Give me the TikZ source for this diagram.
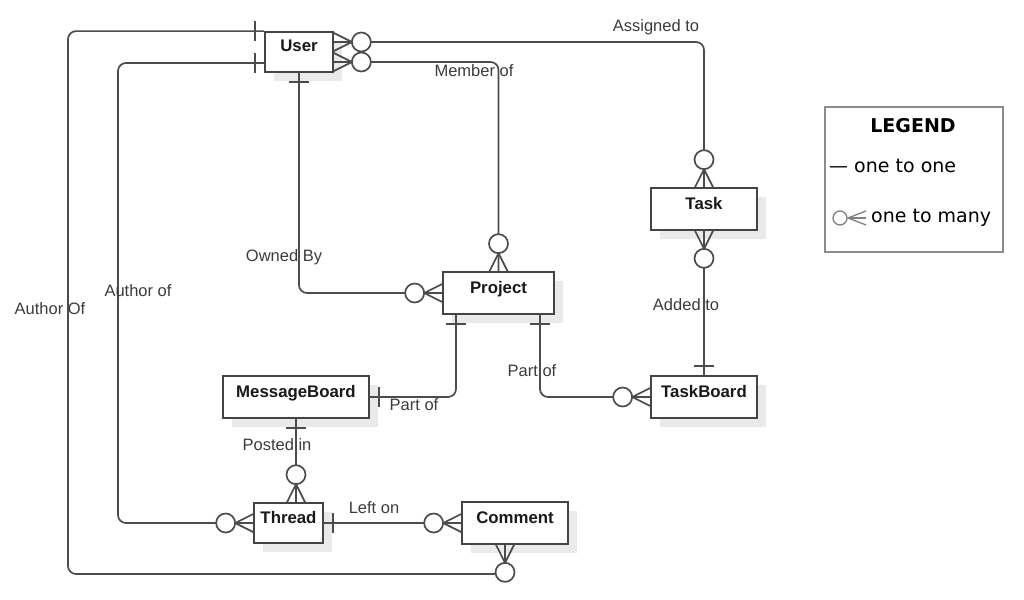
\documentclass[tikz,border=0pt]{standalone}
\usepackage{fontspec}
\setmainfont{Liberation Sans}
\newfontfamily\legfont{DejaVu Sans}
\usetikzlibrary{shadows}
\definecolor{lnc}{HTML}{4C4C4C}
\definecolor{boxc}{HTML}{444444}
\definecolor{lblc}{HTML}{3C3C3C}
\definecolor{shc}{HTML}{EAEAEA}
\tikzset{
  conn/.style={draw=lnc, line width=1.7pt, rounded corners=8pt},
  part/.style={draw=lnc, line width=1.7pt},
  ent/.style={draw=boxc, line width=1.7pt, fill=white, inner sep=0pt,
    font=\bfseries\fontsize{16.8}{16.8}\selectfont, text=black!90,
    text height=12pt, text depth=12pt,
    drop shadow={shadow xshift=9pt, shadow yshift=-9pt, fill=shc, opacity=1}},
  lbl/.style={font=\fontsize{16.5}{16.5}\selectfont, text=lblc, inner sep=0pt},
  many/.pic={
    \draw[part] (0pt,-9pt) -- (18pt,0pt) -- (0pt,9pt);
    \draw[part] (0pt,0pt) -- (18pt,0pt);
    \draw[part, fill=white] (27.5pt,0pt) circle[radius=9.5pt];
  },
  one/.pic={
    \draw[part] (9pt,-10pt) -- (9pt,10pt);
  }
}
\begin{document}
\begin{tikzpicture}[x=1pt, y=-1pt]
\useasboundingbox (0,0) rectangle (1024,599);
\fill[white] (0,0) rectangle (1024,599);

% entities
\node[ent, minimum width=68pt, minimum height=40pt] (user) at (299,52) {User};
\node[ent, minimum width=106pt, minimum height=42pt] (task) at (704,209) {Task};
\node[ent, minimum width=111pt, minimum height=42pt] (project) at (498.5,293) {Project};
\node[ent, minimum width=146pt, minimum height=42pt] (mboard) at (296,397) {MessageBoard};
\node[ent, minimum width=106pt, minimum height=42pt] (tboard) at (704,397) {TaskBoard};
\node[ent, minimum width=69pt, minimum height=40pt] (thread) at (288.5,523) {Thread};
\node[ent, minimum width=106pt, minimum height=42pt] (comment) at (515,523) {Comment};

% free corner points
\coordinate (aoc) at (68,574);
\coordinate (aic) at (118,523);
\coordinate (cbot) at ([xshift=-10pt]comment.south);

% connectors
\draw[conn] (user.north west) -| (aoc) -| (cbot);
\draw[conn] ([yshift=-11pt]user.west) -| (aic) -- (thread.west);
\draw[conn] (user.south) |- (project.west);
\draw[conn] ([yshift=-10pt]user.east) -| (project.north);
\draw[conn] ([yshift=10pt]user.east) -| (task.north);
\draw[conn] (task.south) -- (tboard.north);
\draw[conn] ([xshift=41.5pt]project.south) |- (tboard.west);
\draw[conn] ([xshift=-42.5pt]project.south) |- (mboard.east);
\draw[conn] (mboard.south) -- (mboard.south |- thread.north);
\draw[conn] (thread.east) -- (comment.west);

% end symbols
\pic[rotate=180] at (user.north west) {one};
\pic[rotate=180] at ([yshift=-11pt]user.west) {one};
\pic[rotate=-90] at (user.south) {one};
\pic at ([yshift=10pt]user.east) {many};
\pic at ([yshift=-10pt]user.east) {many};
\pic[rotate=90] at (task.north) {many};
\pic[rotate=-90] at (task.south) {many};
\pic[rotate=90] at (tboard.north) {one};
\pic[rotate=90] at (project.north) {many};
\pic[rotate=180] at (project.west) {many};
\pic[rotate=-90] at ([xshift=41.5pt]project.south) {one};
\pic[rotate=-90] at ([xshift=-42.5pt]project.south) {one};
\pic[rotate=180] at (tboard.west) {many};
\pic at (mboard.east) {one};
\pic[rotate=-90] at (mboard.south) {one};
\pic[rotate=90] at (mboard.south |- thread.north) {many};
\pic[rotate=180] at (thread.west) {many};
\pic at (thread.east) {one};
\pic[rotate=180] at (comment.west) {many};
\pic[rotate=-90] at (cbot) {many};

% labels
\node[lbl] (l1) at (656,27) {Assigned to};
\node[lbl] (l2) at (474,71) {Member of};
\node[lbl] (l3) at (284,257) {Owned By};
\node[lbl] (l4) at (138,291) {Author of};
\node[lbl] (l5) at (50,309) {Author Of};
\node[lbl] (l6) at (414,405) {Part of};
\node[lbl] (l7) at (532,371) {Part of};
\node[lbl] (l8) at (686,305) {Added to};
\node[lbl] (l9) at (277,445) {Posted in};
\node[lbl] (l10) at (374,508) {Left on};

% legend
\node[draw=black!45, line width=2pt, minimum width=178pt, minimum height=145pt, inner sep=0pt] (legend) at (914,179.5) {};
\node[font=\legfont\bfseries\fontsize{19}{19}\selectfont, inner sep=0pt] (legt) at (913,126) {LEGEND};
\node[font=\legfont\fontsize{19}{19}\selectfont, anchor=west, inner sep=0pt] (leg1) at (829,166) {— one to one};
\draw[draw=black!50, line width=1.3pt] (840,218) circle[radius=7];
\draw[draw=black!50, line width=1.3pt] (866,211) -- (848,218) -- (866,225);
\draw[draw=black!50, line width=1.3pt] (848,218) -- (866,218);
\node[font=\legfont\fontsize{19}{19}\selectfont, anchor=west, inner sep=0pt] (leg2) at (871,218) {one to many};
\end{tikzpicture}
\end{document}
